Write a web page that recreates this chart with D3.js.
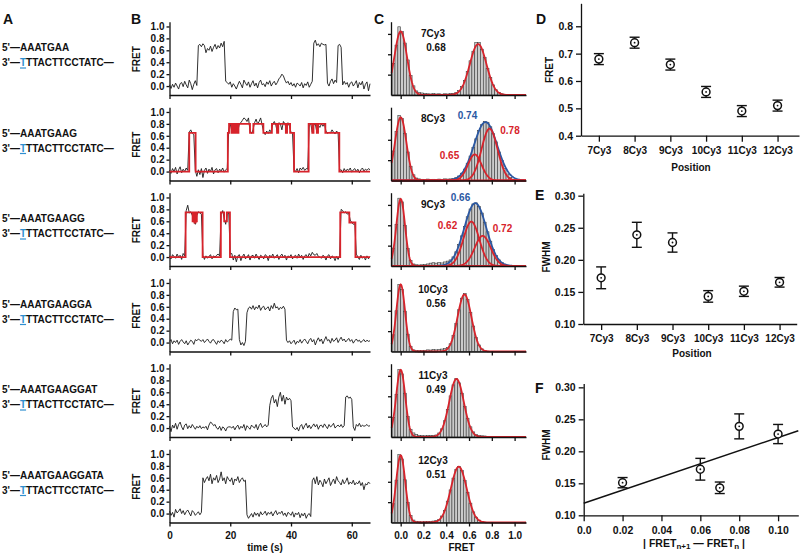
<!DOCTYPE html>
<html><head><meta charset="utf-8">
<script src="https://cdn.jsdelivr.net/npm/d3@7/dist/d3.min.js"></script>
<style>body{margin:0;background:#fff} svg{display:block}</style>
</head><body><svg id="fig" width="800" height="556"></svg>
<script>
// ---------------- DATA ----------------
const rowNames = ["7Cy3","8Cy3","9Cy3","10Cy3","11Cy3","12Cy3"];
const rowFretLabels = ["0.68", null, null, "0.56", "0.49", "0.51"];
const seq5 = ["AAATGAA","AAATGAAG","AAATGAAGG","AAATGAAGGA","AAATGAAGGAT","AAATGAAGGATA"];
const seq3 = "TTTACTTCCTATC—";

const timeStep = 0.5;  // s between trace samples
const timeTicks = [0,20,40,60];
const fretTicks = [0,0.2,0.4,0.6,0.8,1.0];
const histTicks = [1,2,3];
const histFretTicks = [0,0.2,0.4,0.6,0.8,1.0];
const histBinStart = -0.075, histBinWidth = 0.025;

const trace7 = [0.02,-0.04,0.03,-0.02,0.05,0.0,-0.05,0.04,0.06,-0.01,0.08,0.02,-0.03,0.1,0.04,-0.06,0.03,0.09,0.01,
0.68,0.7,0.66,0.71,0.68,0.56,0.63,0.6,0.67,0.58,0.65,0.7,0.62,0.68,0.64,0.72,0.66,0.75,
0.08,0.06,0.03,0.07,-0.02,0.04,0.0,-0.05,0.02,0.08,0.03,-0.03,0.1,0.05,0.01,0.07,-0.02,0.04,0.09,0.0,0.05,-0.03,0.06,0.1,0.02,0.04,-0.01,0.07,0.03,0.09,0.0,0.05,0.08,0.02,0.06,0.12,0.15,0.2,
0.17,0.1,0.05,0.08,0.02,0.06,0.0,0.04,-0.02,0.05,0.03,0.0,0.06,-0.03,0.04,0.01,0.07,-0.02,0.03,0.08,
0.72,0.77,0.68,0.71,0.66,0.72,0.7,0.69,0.7,0.05,0.0,0.08,0.12,0.04,0.1,0.06,0.68,0.7,0.65,0.02,
0.08,0.03,0.06,-0.02,0.05,0.07,0.0,0.04,0.09,-0.03,0.06,0.02,0.08,-0.05,0.03,0.07,-0.08,0.04];

const trace8 = [0.02,-0.03,0.05,0.0,0.07,-0.04,0.03,0.08,-0.02,0.04,0.0,0.06,0.02,
0.66,0.7,0.64,0.62,0.02,
-0.08,0.03,-0.05,0.05,-0.1,0.02,0.06,-0.03,0.04,0.0,0.07,-0.04,0.03,0.05,-0.02,0.04,0.01,0.06,-0.01,0.03,0.05,
0.7,0.8,0.68,0.78,0.66,0.8,0.68,0.8,0.82,0.86,0.9,0.88,0.84,0.9,0.68,0.64,0.7,0.82,0.88,0.8,0.84,0.9,0.78,0.66,0.62,0.68,0.64,0.7,0.66,0.8,0.84,0.78,0.66,0.82,0.8,0.7,0.84,0.8,0.68,0.82,0.76,0.66,0.64,
0.03,0.0,0.05,-0.02,0.06,0.03,0.07,0.02,0.05,0.04,
0.78,0.8,0.66,0.78,0.8,0.66,0.78,0.74,0.8,0.76,0.8,
0.68,0.64,0.66,0.65,0.7,0.66,0.63,0.68,0.65,
0.02,0.03,-0.02,0.05,0.0,0.04,0.02,0.06,-0.01,0.03,0.05,0.0,0.04,-0.02,0.03,0.06,0.01,0.04,0.02,0.05,0.03];

const trace9 = [0.02,-0.03,0.04,0.01,-0.02,0.05,0.0,0.03,-0.04,0.06,0.02,
0.78,0.87,0.74,0.76,0.7,0.6,0.55,0.7,0.76,0.74,0.72,
0.03,-0.04,0.02,-0.02,0.01,0.04,-0.03,0.02,0.0,0.03,0.05,0.02,
0.72,0.78,0.65,0.55,0.72,0.74,0.05,
0.06,-0.05,0.03,-0.08,0.02,0.04,-0.06,0.01,0.05,-0.03,0.0,0.04,-0.05,0.02,0.03,-0.02,0.05,0.0,-0.04,0.03,
0.01,-0.03,0.04,0.02,-0.06,0.03,0.0,0.05,-0.02,0.01,0.04,-0.04,0.02,0.05,-0.01,0.03,-0.05,0.02,0.0,0.04,
-0.03,0.01,0.03,-0.02,0.05,0.0,0.03,-0.04,0.02,0.04,-0.01,0.06,0.02,0.08,0.04,0.03,0.06,0.01,0.0,-0.02,
0.03,0.01,-0.05,0.02,0.04,-0.03,0.02,0.0,-0.06,0.01,-0.04,0.02,
0.8,0.78,0.74,0.76,0.72,0.74,0.62,0.58,0.55,0.56,0.05,
0.0,-0.04,0.03,-0.02,0.01,-0.05,0.02,-0.03,0.01];

const trace10 = [0.02,0.05,-0.02,0.03,0.0,0.04,-0.03,0.02,0.05,0.01,-0.02,0.03,-0.04,0.0,0.04,0.02,-0.03,0.05,0.03,0.06,
0.04,0.02,0.05,0.0,0.03,0.06,0.02,-0.01,0.04,0.05,0.01,-0.03,0.03,0.0,0.04,0.02,-0.02,0.05,0.01,0.03,0.06,0.04,
0.52,0.58,0.55,0.56,0.05,-0.04,0.0,-0.05,0.02,
0.5,0.58,0.6,0.56,0.62,0.55,0.6,0.57,0.63,0.54,0.59,0.61,0.55,0.58,0.6,0.53,0.62,0.57,0.66,0.58,0.6,0.55,0.59,0.57,0.61,0.56,
0.04,0.0,0.03,-0.02,0.01,0.04,-0.03,0.02,0.0,0.05,-0.01,0.03,0.06,0.02,-0.02,0.04,0.07,0.01,0.05,-0.04,
0.03,0.08,0.02,0.06,-0.02,0.04,0.1,0.03,0.05,-0.01,0.07,0.02,0.04,0.08,0.0,0.05,0.09,0.03,0.06,0.01,
0.04,0.07,0.02,0.05,-0.01,0.03,0.06,0.02,0.04,0.0,0.03,0.05,0.01,0.04,0.02,0.03];

const trace11 = [0.03,-0.06,0.05,0.0,0.08,-0.02,0.06,0.1,0.02,-0.03,0.05,0.07,-0.01,0.04,0.0,0.06,0.02,-0.02,0.03,0.0,
0.04,-0.01,0.02,0.0,0.03,-0.03,0.05,0.1,0.08,0.04,0.06,0.0,-0.02,0.03,-0.04,0.02,0.0,-0.05,0.01,0.02,
0.02,0.0,0.03,-0.03,0.02,0.05,-0.02,0.03,0.0,0.06,-0.04,0.04,0.01,-0.02,0.05,0.02,0.0,0.06,-0.03,0.04,
0.08,0.01,0.03,0.06,0.02,0.05,
0.38,0.5,0.55,0.42,0.48,0.36,0.52,0.6,0.45,0.55,0.4,0.52,0.47,0.5,0.46,
0.02,0.0,-0.03,0.01,-0.05,0.03,0.06,-0.02,0.04,0.08,0.0,0.05,-0.01,0.03,0.07,0.02,0.06,-0.02,0.04,0.05,
0.01,0.07,0.03,-0.01,0.06,0.02,0.04,0.08,0.0,0.03,0.05,0.02,0.06,0.01,0.04,
0.52,0.54,0.5,0.52,0.48,
0.02,-0.04,0.06,0.03,0.08,0.02,0.05,0.03,0.04,0.06,0.03,0.04];

const trace12 = [0.04,-0.03,0.02,-0.06,0.07,0.01,0.04,0.08,0.0,0.05,-0.02,0.03,0.06,0.01,-0.04,0.05,0.02,-0.03,0.0,0.03,-0.02,0.02,
0.6,0.52,0.58,0.62,0.55,0.66,0.5,0.6,0.56,0.64,0.52,0.58,0.7,0.55,0.6,0.5,0.62,0.57,0.54,0.6,0.48,0.58,0.55,0.62,0.52,0.57,0.6,0.54,0.56,
-0.02,-0.08,-0.04,0.0,-0.06,0.02,-0.03,0.01,-0.05,0.03,-0.02,0.0,0.04,-0.03,0.02,-0.01,0.03,-0.04,0.01,0.05,
-0.02,0.02,0.0,0.04,-0.03,0.01,-0.05,0.02,0.0,-0.03,0.03,-0.06,0.01,-0.02,0.02,-0.07,0.0,-0.04,0.01,-0.08,-0.02,0.0,-0.05,
0.55,0.6,0.5,0.62,0.48,0.56,0.52,0.45,0.58,0.5,0.55,0.6,0.47,0.53,0.58,0.5,0.62,0.55,0.52,0.48,
0.57,0.5,0.54,0.6,0.49,0.53,0.5,0.56,0.48,0.52,0.5,0.55,0.47,0.52,0.4,0.5,0.48,0.53,0.5];

// HMM idealised fits: [start time (s), FRET level]
const hmm8 = [[0,0],[6.5,0.65],[8.6,0],[19.2,0.65],[19.6,0.8],[20.4,0.65],[20.8,0.8],[21.3,0.65],[21.7,0.8],[22.3,0.65],[22.7,0.8],[26.5,0.65],[27.6,0.8],[30.9,0.65],[33.7,0.8],[35.4,0.65],[35.8,0.8],[38.3,0.65],[38.7,0.8],[39.7,0.65],[41,0],[45.8,0.8],[47,0.65],[47.4,0.8],[48.5,0.65],[48.9,0.8],[51.3,0.65],[55.9,0]];
const hmm9 = [[0,0],[5.3,0.75],[7.6,0.6],[7.9,0.75],[8.2,0.58],[8.6,0.75],[8.8,0.6],[9.0,0.75],[10.9,0],[16.9,0.75],[18.0,0.6],[18.9,0.75],[19.9,0],[56.2,0.75],[59.2,0.58],[61.2,0]];

// FRET histograms (counts x100), bins of 0.025 starting at -0.075
const hist7 = [1.55,2.45,3.35,3.12,2.55,1.72,0.95,0.45,0.2,0.12,0.1,0.08,0.06,0.05,0.07,0.05,0.06,0.04,0.06,0.05,0.07,0.08,0.12,0.22,0.42,0.72,1.15,1.68,2.15,2.57,2.58,2.25,1.85,1.3,0.86,0.5,0.26,0.13,0.06,0.03,0.02,0.01,0];
const hist8 = [1.45,2.4,3.2,3.05,2.3,1.4,0.7,0.28,0.12,0.08,0.06,0.05,0.07,0.05,0.06,0.05,0.07,0.06,0.08,0.07,0.08,0.1,0.14,0.22,0.36,0.56,0.85,1.2,1.62,2.05,2.45,2.74,2.9,2.86,2.64,2.3,1.9,1.4,0.98,0.6,0.32,0.15,0.06];
const hist9 = [0.88,2.05,3.33,3.15,2.0,0.85,0.28,0.1,0.06,0.05,0.06,0.08,0.1,0.14,0.16,0.14,0.17,0.15,0.2,0.24,0.3,0.45,0.7,1.05,1.48,1.95,2.42,2.8,3.05,3.1,2.92,2.6,2.15,1.68,1.22,0.82,0.52,0.3,0.17,0.09,0.04,0.02,0];
const hist10 = [0.82,2.0,3.3,3.05,1.98,0.85,0.25,0.08,0.05,0.04,0.05,0.06,0.08,0.07,0.09,0.08,0.1,0.12,0.15,0.2,0.38,0.78,1.38,2.05,2.62,2.84,2.55,1.92,1.25,0.68,0.32,0.13,0.05,0.02,0,0,0,0,0,0,0,0,0];
const hist11 = [0.95,2.1,3.32,3.1,2.15,1.0,0.38,0.2,0.12,0.08,0.07,0.06,0.07,0.08,0.08,0.1,0.2,0.4,0.8,1.36,2.02,2.56,2.87,2.66,2.15,1.5,0.92,0.5,0.25,0.12,0.08,0.06,0.05,0.03,0.02,0,0,0,0,0,0,0,0];
const hist12 = [0.92,2.08,3.33,3.12,2.1,0.98,0.35,0.12,0.06,0.04,0.03,0.04,0.05,0.05,0.07,0.09,0.15,0.32,0.6,1.05,1.6,2.18,2.6,2.76,2.55,2.06,1.48,0.95,0.52,0.26,0.12,0.05,0.02,0,0,0,0,0,0,0,0,0,0];

// Gaussian fit parameters [amplitude, centre, sigma]; each red curve is the sum of its components
const redFits7  = [[[3.12,0,0.055],[2.5,0.68,0.073]]];
const redFits8  = [[[3.1,0,0.05]],[[1.28,0.65,0.06]],[[2.55,0.78,0.07]]];
const redFits9  = [[[3.3,0,0.038]],[[2.18,0.62,0.07]],[[1.48,0.72,0.07]]];
const redFits10 = [[[3.3,0,0.038],[2.8,0.56,0.0607]]];
const redFits11 = [[[3.3,0,0.04],[2.85,0.49,0.064]]];
const redFits12 = [[[3.3,0,0.04],[2.74,0.51,0.07]]];
const blueFit8 = [[2.87,0.745,0.1015]];
const blueFit9 = [[3.09,0.655,0.0964]];
const compLabels8 = {blue:"0.74", redLow:"0.65", redHigh:"0.78"};
const compLabels9 = {blue:"0.66", redLow:"0.62", redHigh:"0.72"};

// Panels D-F
const positions = [7,8,9,10,11,12];
const positionLabels = ["7Cy3","8Cy3","9Cy3","10Cy3","11Cy3","12Cy3"];
const fretMean = [0.68,0.74,0.66,0.56,0.49,0.51];
const fretErr  = [0.02,0.02,0.02,0.02,0.02,0.02];
const fwhm     = [0.172,0.239,0.227,0.143,0.151,0.165];
const fwhmErr  = [0.017,0.0195,0.015,0.009,0.008,0.0075];
const dTicks = [0.4,0.5,0.6,0.7,0.8];
const eTicks = [0.10,0.15,0.20,0.25,0.30];
const deltaFret = [0.06,0.08,0.10,0.07,0.02];      // |FRET(n+1)-FRET(n)| for 7..11Cy3
const deltaFwhm = [0.172,0.239,0.227,0.143,0.151];
const deltaFwhmErr = [0.017,0.0195,0.015,0.009,0.008];
const fXTicks = [0,0.02,0.04,0.06,0.08,0.10];
const fXTickLabels = ["0.0","0.02","0.04","0.06","0.08","0.10"];
const lineFit = {intercept:0.1188, slope:1.027};

// ---------------- DRAW ----------------
const svg = d3.select("#fig");
const FONT = '"Liberation Sans", Arial, Helvetica, sans-serif';
const RED = "#d7232b", BLUE = "#2b58a3", CYAN = "#2f8fd0", INK = "#111";

function styleAxis(g, fs){
  g.attr("font-family", FONT).attr("font-size", fs || 10).attr("font-weight","bold");
  g.selectAll("path.domain").attr("stroke",INK).attr("stroke-width",1.3);
  g.selectAll(".tick line").attr("stroke",INK).attr("stroke-width",1.3);
  g.selectAll(".tick text").attr("fill",INK);
  return g;
}
function label(x,y,txt,opts){
  opts = opts || {};
  const t = svg.append("text").attr("x",x).attr("y",y).text(txt)
    .attr("font-family",FONT).attr("font-weight","bold")
    .attr("font-size",opts.size || 10).attr("fill",opts.fill || INK)
    .attr("text-anchor",opts.anchor || "start");
  if (opts.rotate) t.attr("transform",`rotate(-90,${x},${y})`);
  return t;
}
function gaussSum(comps, x){ return d3.sum(comps, c => c[0]*Math.exp(-((x-c[1])**2)/(2*c[2]*c[2]))); }

// panel letters
label(3,24,"A",{size:14});
label(131,24,"B",{size:14});
label(374,24,"C",{size:14});
label(536,24,"D",{size:14});
label(535,200,"E",{size:14});
label(535,393,"F",{size:14});

const traces = [trace7,trace8,trace9,trace10,trace11,trace12];
const hmms = [null,hmm8,hmm9,null,null,null];
const hists = [hist7,hist8,hist9,hist10,hist11,hist12];
const redFits = [redFits7,redFits8,redFits9,redFits10,redFits11,redFits12];
const blueFits = [null,blueFit8,blueFit9,null,null,null];
const compLabels = [null,compLabels8,compLabels9,null,null,null];

const xB = d3.scaleLinear().domain([0,66]).range([169.5,370]);
const xC = d3.scaleLinear().domain([-0.085,1.1]).range([391,526]);
const fitXs = d3.range(-0.08, 1.1, 0.004);

for (let r = 0; r < 6; r++){
  const base = 95 + 85.5*r, top = base - 73.3;
  const yB = d3.scaleLinear().domain([-0.15,1.08]).range([base,top]);
  const yC = d3.scaleLinear().domain([0,3.6]).range([base,top]);

  // ---- A: sequences
  const y5 = 51 + 85.5*r, y3 = y5 + 15;
  label(2, y5, "5'—" + seq5[r]);
  const t3 = label(2, y3, "3'—");
  t3.append("tspan").attr("fill",CYAN).text(seq3[0]);
  t3.append("tspan").text(seq3.slice(1));
  const n = t3.node();
  const s0 = n.getStartPositionOfChar(3).x, s1 = n.getEndPositionOfChar(3).x;
  svg.append("line").attr("x1",s0).attr("x2",s1).attr("y1",y3+2).attr("y2",y3+2)
     .attr("stroke",CYAN).attr("stroke-width",1.2);

  // ---- B: trace
  styleAxis(svg.append("g").attr("transform",`translate(${xB(0)},0)`)
    .call(d3.axisLeft(yB).tickValues(fretTicks).tickFormat(d3.format(".1f")).tickSize(3).tickPadding(2).tickSizeOuter(0)));
  styleAxis(svg.append("g").attr("transform",`translate(0,${base})`)
    .call(d3.axisBottom(xB).tickValues(timeTicks).tickSize(4).tickPadding(5).tickSizeOuter(0)
      .tickFormat(r === 5 ? (d => String(d)) : (() => ""))));
  label(140, yB(0.45), "FRET", {anchor:"middle", rotate:true});

  svg.append("path").datum(traces[r])
    .attr("d", d3.line().x((d,i) => xB(i*timeStep)).y(d => yB(d)))
    .attr("fill","none").attr("stroke","#1a1a1a").attr("stroke-width",0.9);
  if (hmms[r]){
    const steps = hmms[r].concat([[xB.domain()[1], hmms[r][hmms[r].length-1][1]]]);
    svg.append("path").datum(steps)
      .attr("d", d3.line().curve(d3.curveStepAfter).x(d => xB(d[0])).y(d => yB(d[1])))
      .attr("fill","none").attr("stroke",RED).attr("stroke-width",1.8);
  }

  // ---- C: histogram
  svg.append("g").selectAll("rect").data(hists[r]).join("rect")
    .attr("x",(d,i) => xC(histBinStart + i*histBinWidth))
    .attr("width",(d,i) => xC(histBinStart + (i+1)*histBinWidth) - xC(histBinStart + i*histBinWidth))
    .attr("y",d => yC(d)).attr("height",d => base - yC(d))
    .attr("fill","#cbcbcb").attr("stroke","#3c3c3c").attr("stroke-width",0.6);
  if (blueFits[r]){
    svg.append("path").datum(fitXs)
      .attr("d", d3.line().x(x => xC(x)).y(x => yC(gaussSum(blueFits[r], x))))
      .attr("fill","none").attr("stroke",BLUE).attr("stroke-width",1.8);
  }
  redFits[r].forEach(comps => {
    svg.append("path").datum(fitXs)
      .attr("d", d3.line().x(x => xC(x)).y(x => yC(gaussSum(comps, x))))
      .attr("fill","none").attr("stroke",RED).attr("stroke-width",1.8);
  });
  styleAxis(svg.append("g").attr("transform",`translate(${xC.range()[0]},0)`)
    .call(d3.axisLeft(yC).tickValues(histTicks).tickFormat(() => "").tickSize(3).tickSizeOuter(0)));
  styleAxis(svg.append("g").attr("transform",`translate(0,${base})`)
    .call(d3.axisBottom(xC).tickValues(histFretTicks).tickSize(4).tickPadding(5).tickSizeOuter(0)
      .tickFormat(r === 5 ? d3.format(".1f") : (() => ""))));

  label(433, base - 58.3, rowNames[r], {anchor:"middle"});
  if (rowFretLabels[r]) label(436, base - 44.5, rowFretLabels[r], {anchor:"middle"});
  if (compLabels[r]){
    const L = compLabels[r];
    if (r === 1){
      label(467.5, base - 61.5, L.blue, {anchor:"middle", fill:BLUE});
      label(510, base - 46.5, L.redHigh, {anchor:"middle", fill:RED});
      label(449.5, base - 21.2, L.redLow, {anchor:"middle", fill:RED});
    } else {
      label(460.5, base - 65.3, L.blue, {anchor:"middle", fill:BLUE});
      label(447.5, base - 36.7, L.redLow, {anchor:"middle", fill:RED});
      label(502.5, base - 34.3, L.redHigh, {anchor:"middle", fill:RED});
    }
  }
}
label(265, 551, "time (s)", {anchor:"middle"});
label(461.5, 550.5, "FRET", {anchor:"middle"});

// ---- D / E / F
function marker(g, cx, cy, ylo, yhi){
  g.append("line").attr("x1",cx).attr("x2",cx).attr("y1",ylo).attr("y2",yhi).attr("stroke",INK).attr("stroke-width",1.4);
  [ylo,yhi].forEach(yy => g.append("line").attr("x1",cx-5).attr("x2",cx+5).attr("y1",yy).attr("y2",yy).attr("stroke",INK).attr("stroke-width",1.4));
  g.append("circle").attr("cx",cx).attr("cy",cy).attr("r",3.9).attr("fill","#fff").attr("stroke",INK).attr("stroke-width",1.5);
  g.append("circle").attr("cx",cx).attr("cy",cy).attr("r",0.9).attr("fill",INK);
}

// D
{
  const x = d3.scaleLinear().domain([6.5,12.6]).range([581,799]);
  const y = d3.scaleLinear().domain([0.4,0.884]).range([135.7,3.3]);
  styleAxis(svg.append("g").attr("transform",`translate(0,${y.range()[0]})`)
    .call(d3.axisBottom(x).tickValues(positions).tickFormat((d,i) => positionLabels[i]).tickSize(6).tickPadding(5).tickSizeOuter(0)));
  styleAxis(svg.append("g").attr("transform",`translate(${x.range()[0]},0)`)
    .call(d3.axisLeft(y).tickValues(dTicks).tickFormat(d3.format(".1f")).tickSize(5).tickPadding(3).tickSizeOuter(0)), 10.5);
  const g = svg.append("g");
  positions.forEach((p,i) => marker(g, x(p), y(fretMean[i]), y(fretMean[i]-fretErr[i]), y(fretMean[i]+fretErr[i])));
  label(553, 70, "FRET", {anchor:"middle", rotate:true});
  label(691, 171, "Position", {anchor:"middle"});
}
// E
{
  const x = d3.scaleLinear().domain([6.5,12.48]).range([583.3,796.7]);
  const y = d3.scaleLinear().domain([0.1,0.3037]).range([324,193.3]);
  styleAxis(svg.append("g").attr("transform",`translate(0,${y.range()[0]})`)
    .call(d3.axisBottom(x).tickValues(positions).tickFormat((d,i) => positionLabels[i]).tickSize(6).tickPadding(5).tickSizeOuter(0)));
  styleAxis(svg.append("g").attr("transform",`translate(${x.range()[0]},0)`)
    .call(d3.axisLeft(y).tickValues(eTicks).tickFormat(d3.format(".2f")).tickSize(5).tickPadding(3).tickSizeOuter(0)), 10.5);
  const g = svg.append("g");
  positions.forEach((p,i) => marker(g, x(p), y(fwhm[i]), y(fwhm[i]-fwhmErr[i]), y(fwhm[i]+fwhmErr[i])));
  label(550, 257, "FWHM", {anchor:"middle", rotate:true});
  label(692, 357, "Position", {anchor:"middle"});
}
// F
{
  const x = d3.scaleLinear().domain([0,0.1104]).range([583.7,798.3]);
  const y = d3.scaleLinear().domain([0.1,0.306]).range([515.3,383.5]);
  styleAxis(svg.append("g").attr("transform",`translate(0,${y.range()[0]})`)
    .call(d3.axisBottom(x).tickValues(fXTicks).tickFormat((d,i) => fXTickLabels[i]).tickSize(6).tickPadding(5).tickSizeOuter(0)), 10.5);
  styleAxis(svg.append("g").attr("transform",`translate(${x.range()[0]},0)`)
    .call(d3.axisLeft(y).tickValues(eTicks).tickFormat(d3.format(".2f")).tickSize(5).tickPadding(3).tickSizeOuter(0)), 10.5);
  const xd = x.domain();
  svg.append("line")
    .attr("x1",x(xd[0])).attr("y1",y(lineFit.intercept + lineFit.slope*xd[0]))
    .attr("x2",x(xd[1])).attr("y2",y(lineFit.intercept + lineFit.slope*xd[1]))
    .attr("stroke",INK).attr("stroke-width",1.5);
  const g = svg.append("g");
  deltaFret.forEach((dx,i) => marker(g, x(dx), y(deltaFwhm[i]), y(deltaFwhm[i]-deltaFwhmErr[i]), y(deltaFwhm[i]+deltaFwhmErr[i])));
  label(550, 445, "FWHM", {anchor:"middle", rotate:true});
  const t = label(694, 546.5, "| FRET", {anchor:"middle", size:10.5});
  t.append("tspan").attr("baseline-shift","-25%").attr("font-size",8).text("n+1");
  t.append("tspan").text(" — FRET");
  t.append("tspan").attr("baseline-shift","-25%").attr("font-size",8).text("n");
  t.append("tspan").text(" |");
}
</script></body></html>
